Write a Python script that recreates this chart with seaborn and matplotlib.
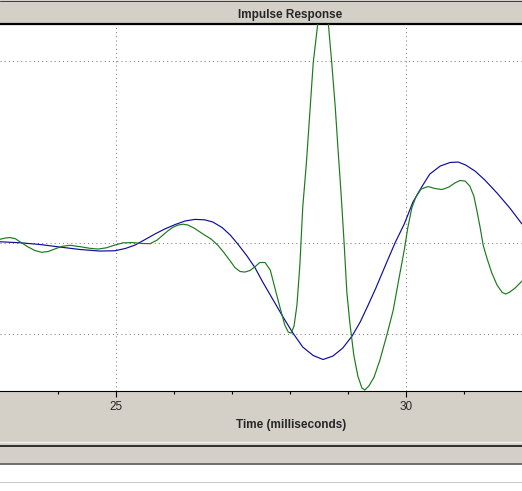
import pandas as pd
import seaborn as sns
import matplotlib.pyplot as plt
from matplotlib.patches import Rectangle
from matplotlib.lines import Line2D

# values (time in ms, amplitude in arbitrary units)
blue_t = [23.0, 23.35, 23.69, 24.03, 24.38, 24.72, 24.98, 25.16, 25.33, 25.5,
          25.67, 25.84, 26.02, 26.19, 26.36, 26.53, 26.67, 26.83, 26.97, 27.1,
          27.26, 27.4, 27.53, 27.71, 27.88, 28.05, 28.22, 28.4, 28.57, 28.74,
          28.91, 29.07, 29.21, 29.34, 29.48, 29.64, 29.81, 29.97, 30.12, 30.28,
          30.41, 30.59, 30.76, 30.9, 31.03, 31.19, 31.36, 31.57, 31.79, 32.0]
blue_y = [0.014, 0.003, -0.016, -0.044, -0.071, -0.088, -0.085, -0.060, -0.022, 0.038,
          0.099, 0.154, 0.203, 0.242, 0.260, 0.255, 0.231, 0.170, 0.088, -0.011,
          -0.143, -0.275, -0.429, -0.626, -0.813, -0.989, -1.143, -1.236, -1.280, -1.242,
          -1.154, -1.022, -0.868, -0.692, -0.495, -0.253, 0.0, 0.209, 0.451, 0.626,
          0.758, 0.846, 0.885, 0.890, 0.857, 0.791, 0.692, 0.549, 0.385, 0.209]

green_t = [23.0, 23.09, 23.17, 23.26, 23.34, 23.47, 23.6, 23.72, 23.83, 23.95,
           24.07, 24.21, 24.38, 24.55, 24.69, 24.83, 24.98, 25.12, 25.28, 25.45,
           25.59, 25.71, 25.81, 25.9, 25.98, 26.07, 26.16, 26.24, 26.36, 26.5,
           26.64, 26.76, 26.86, 26.97, 27.05, 27.14, 27.22, 27.31, 27.4, 27.48,
           27.57, 27.66, 27.74, 27.83, 27.91, 27.97, 28.02, 28.07, 28.12, 28.17,
           28.22, 28.28, 28.33, 28.4, 28.48, 28.57, 28.66, 28.72, 28.78, 28.83,
           28.88, 28.93, 28.98, 29.03, 29.1, 29.17, 29.24, 29.29, 29.36, 29.45,
           29.55, 29.67, 29.78, 29.88, 29.97, 30.03, 30.1, 30.17, 30.26, 30.38,
           30.5, 30.62, 30.74, 30.84, 30.93, 31.02, 31.1, 31.17, 31.22, 31.28,
           31.33, 31.4, 31.48, 31.57, 31.66, 31.72, 31.79, 31.88, 32.0]
green_y = [0.041, 0.055, 0.060, 0.049, 0.016, -0.038, -0.082, -0.102, -0.093, -0.064,
           -0.036, -0.025, -0.040, -0.058, -0.066, -0.053, -0.022, 0.002, 0.005, -0.005,
           -0.007, 0.033, 0.088, 0.137, 0.173, 0.198, 0.207, 0.198, 0.159, 0.099,
           0.044, -0.027, -0.104, -0.198, -0.269, -0.313, -0.319, -0.302, -0.258, -0.214,
           -0.214, -0.297, -0.495, -0.714, -0.901, -0.978, -0.989, -0.912, -0.681, -0.242,
           0.396, 0.857, 1.319, 1.978, 2.418, 2.52, 2.418, 1.978, 1.495, 1.011,
           0.549, 0.033, -0.538, -0.868, -1.231, -1.462, -1.593, -1.615, -1.571, -1.473,
           -1.286, -1.011, -0.736, -0.385, -0.077, 0.165, 0.385, 0.505, 0.593, 0.621,
           0.599, 0.588, 0.615, 0.659, 0.687, 0.681, 0.626, 0.516, 0.363, 0.165,
           -0.022, -0.176, -0.330, -0.462, -0.544, -0.560, -0.538, -0.495, -0.418]

x_major = [25, 30]
x_minor = [24, 26, 27, 28, 29, 31]
y_grid = [-1, 0, 2]

df = pd.concat([
    pd.DataFrame({'t': blue_t, 'v': blue_y, 's': 'a'}),
    pd.DataFrame({'t': green_t, 'v': green_y, 's': 'b'}),
])

sns.set_style("white")
plt.rcParams['font.family'] = ['Liberation Sans', 'DejaVu Sans']

panel = '#d4d0c8'
H = 491.0


def fy(py):
    return 1 - py / H


fig = plt.figure(figsize=(5.22, 4.91), dpi=100, facecolor=panel)

# window chrome below the chart
fig.add_artist(Rectangle((0, 0), 1, fy(464.5), transform=fig.transFigure,
                         color='white', zorder=0))
for py, c, w in [(0.5, '#404040', 1.0), (441.5, '#f4f4f4', 1.2), (446, 'black', 1.5),
                 (464, '#505050', 1.5), (482, '#c8c8c8', 1.0)]:
    fig.add_artist(Line2D([0, 1], [fy(py), fy(py)], transform=fig.transFigure,
                          color=c, lw=w * 0.72))

ax = fig.add_axes([0, fy(391), 1, (391 - 24) / H])
ax.set_facecolor('white')

sns.lineplot(data=df, x='t', y='v', hue='s', palette={'a': '#0c0ca0', 'b': '#1c7a1c'},
             lw=0.85, legend=False, sort=False, ax=ax, zorder=3)

ax.set_xlim(23, 32)
ax.set_ylim(-1.626, 2.407)
ax.set_xticks(x_major)
ax.set_xticks(x_minor, minor=True)
ax.set_yticks(y_grid)
ax.tick_params(axis='y', left=False, labelleft=False)
ax.tick_params(axis='x', which='major', direction='out', length=4.5, width=0.8,
               color='black', labelsize=8.5, pad=2.5, bottom=True)
ax.tick_params(axis='x', which='minor', direction='out', length=2.2, width=0.8,
               color='black', bottom=True)
ax.grid(True, which='major', linestyle=(0, (1, 3)), color='#808080', lw=0.75)
ax.set_xlabel('')
ax.set_ylabel('')

for side in ['left', 'right']:
    ax.spines[side].set_visible(False)
ax.spines['top'].set_linewidth(1.6)
ax.spines['top'].set_color('black')
ax.spines['bottom'].set_linewidth(0.8)
ax.spines['bottom'].set_color('black')

fig.text(290 / 522, fy(15), 'Impulse Response', ha='center', va='center',
         fontweight='bold', fontsize=8.5)
fig.text(291 / 522, fy(425), 'Time (milliseconds)', ha='center', va='center',
         fontweight='bold', fontsize=8.5)

fig.savefig('out.png', dpi=100, facecolor=panel)
